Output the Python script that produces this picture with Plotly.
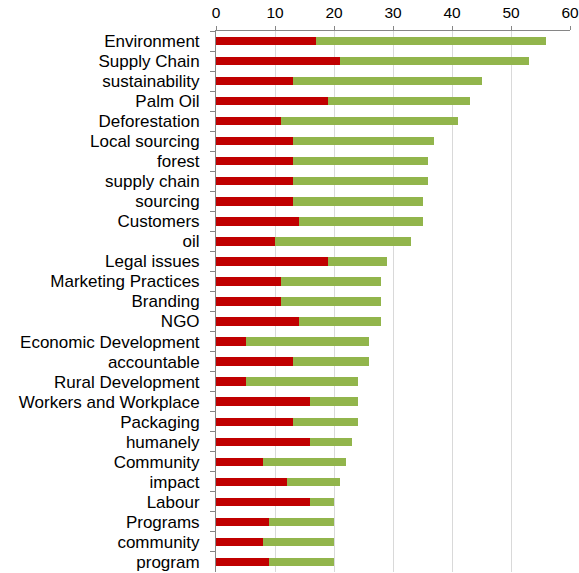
import plotly.graph_objects as go

categories = ["Environment", "Supply Chain", "sustainability", "Palm Oil", "Deforestation",
              "Local sourcing", "forest", "supply chain", "sourcing", "Customers", "oil",
              "Legal issues", "Marketing Practices", "Branding", "NGO", "Economic Development",
              "accountable", "Rural Development", "Workers and Workplace", "Packaging",
              "humanely", "Community", "impact", "Labour", "Programs", "community", "program"]
red_values = [17, 21, 13, 19, 11, 13, 13, 13, 13, 14, 10, 19, 11, 11, 14, 5, 13, 5, 16, 13,
              16, 8, 12, 16, 9, 8, 9]
totals = [56, 53, 45, 43, 41, 37, 36, 36, 35, 35, 33, 29, 28, 28, 28, 26, 26, 24, 24, 24,
          23, 22, 21, 20, 20, 20, 20]
green_values = [t - r for t, r in zip(totals, red_values)]
x_ticks = [0, 10, 20, 30, 40, 50, 60]

fig = go.Figure()
fig.add_trace(go.Bar(y=categories, x=red_values, orientation="h", marker_color="#C00000",
                     marker_line_width=0, name="red"))
fig.add_trace(go.Bar(y=categories, x=green_values, orientation="h", marker_color="#92B54C",
                     marker_line_width=0, name="green"))

fig.update_layout(
    barmode="stack",
    bargap=0.58,
    width=579, height=573,
    margin=dict(l=216, r=9, t=31, b=1, autoexpand=False),
    plot_bgcolor="white", paper_bgcolor="white",
    showlegend=False,
    font=dict(family="Liberation Sans, Arial, sans-serif", color="#000000"),
)
fig.update_xaxes(
    side="top", range=[0, 60], tickvals=x_ticks, automargin=False,
    showgrid=True, gridcolor="#D9D9D9", gridwidth=1,
    showline=True, linecolor="#868686", linewidth=1,
    ticks="outside", ticklen=4, tickcolor="#868686",
    tickfont=dict(size=15.5), zeroline=False, ticklabelstandoff=2,
)
fig.update_yaxes(
    autorange="reversed", type="category", automargin=False,
    showline=True, linecolor="#868686", linewidth=1,
    ticks="outside", ticklen=5, tickcolor="#868686", tickson="boundaries",
    tickfont=dict(size=17), ticklabelstandoff=12, showgrid=False,
)
fig.write_html("out.html", config={"displayModeBar": False},
               post_script="document.body.style.margin='0';")
